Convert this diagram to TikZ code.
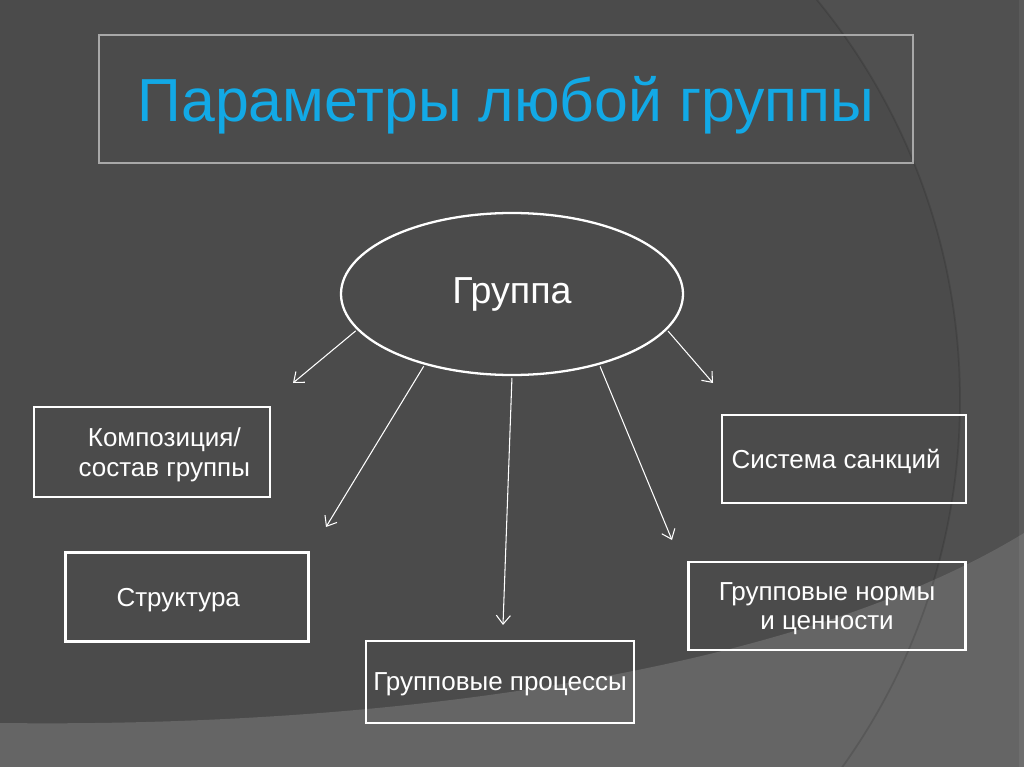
\documentclass[tikz,border=0pt]{standalone}
\usepackage{fontspec}
\setmainfont{Liberation Sans}
\usetikzlibrary{shapes.geometric,arrows.meta}
\definecolor{bgdark}{HTML}{4B4B4B}
\definecolor{bgband}{HTML}{656565}
\definecolor{titleblue}{HTML}{12A9E6}
\definecolor{framegray}{HTML}{A8A8A8}
\begin{document}
\begin{tikzpicture}[x=0.02cm,y=-0.02cm,
  box/.style={draw=white, line width=1.3pt, align=center, inner sep=0pt, text depth=0pt,
    text=white, font=\fontsize{14.8}{17}\selectfont},
  arr/.style={-{Straight Barb[length=5pt,width=8pt]}, draw=white, line width=0.6pt, shorten <=1pt}]
  \clip (0,0) rectangle (1024,767);
  % background
  \fill[bgdark] (0,0) rectangle (1024,767);
  \fill[white, opacity=0.03, even odd rule] (0,0) rectangle (1024,767) (329,400) circle (631);
  \fill[bgband] (0,723) .. controls (400,728) and (800,670) .. (1024,533) -- (1024,767) -- (0,767) -- cycle;
  \draw[black, opacity=0.12, line width=1pt] (329,400) circle (631);
  \fill[white, opacity=0.06] (1019,0) rectangle (1024,767);
  % title
  \node[draw=framegray, line width=0.8pt, minimum width=814*0.02cm, minimum height=128*0.02cm,
    text depth=0pt, text=titleblue, font=\fontsize{34.6}{40}\selectfont] (title) at (506,99) {Параметры любой группы};
  % centre
  \node[ellipse, draw=white, line width=1.3pt, minimum width=342*0.02cm, minimum height=162*0.02cm,
    inner sep=0pt, text=white, font=\fontsize{21.4}{24}\selectfont] (grp) at (512,294) {Группа};
  % boxes
  \node[box, minimum width=236*0.02cm, minimum height=90*0.02cm] (comp) at (152,452) {\hspace*{14pt}Композиция/\\\hspace*{14pt}состав группы};
  \node[box, minimum width=243*0.02cm, minimum height=89*0.02cm] (struct) at (187,597) {Структура\hspace*{10pt}};
  \node[box, minimum width=268*0.02cm, minimum height=82*0.02cm] (proc) at (500,682) {Групповые процессы};
  \node[box, minimum width=244*0.02cm, minimum height=88*0.02cm] (sanc) at (844,459) {Система санкций\hspace*{9pt}};
  \node[box, minimum width=277*0.02cm, minimum height=88*0.02cm] (norm) at (827,606) {Групповые нормы\\и ценности};
  % free arrow ends
  \coordinate (e1) at (293,383);
  \coordinate (e2) at (326,527);
  \coordinate (e3) at (503,625);
  \coordinate (e4) at (672,540);
  \coordinate (e5) at (713,383);
  \draw[arr] (grp.193) -- (e1);
  \draw[arr] (grp.219) -- (e2);
  \draw[arr] (grp.270) -- (e3);
  \draw[arr] (grp.321) -- (e4);
  \draw[arr] (grp.347) -- (e5);
\end{tikzpicture}
\end{document}
